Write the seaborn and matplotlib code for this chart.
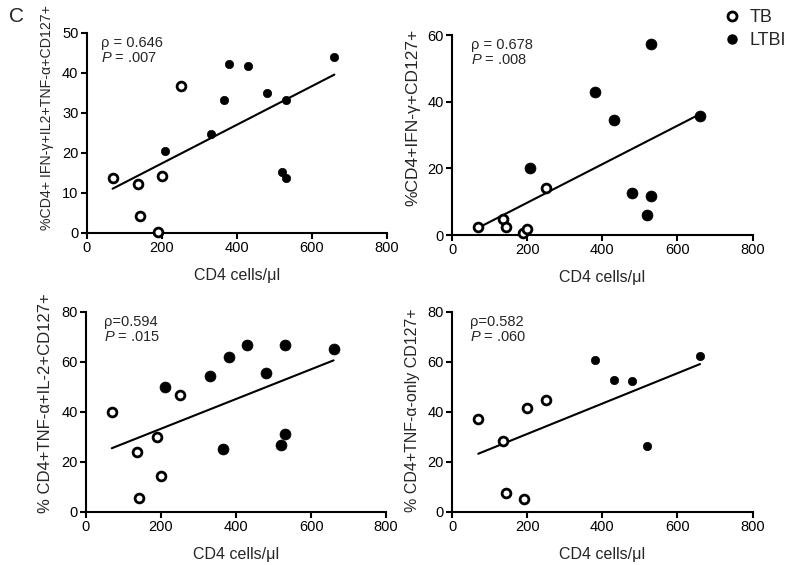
import numpy as np
import pandas as pd
import matplotlib
matplotlib.use("Agg")
import matplotlib.pyplot as plt
import seaborn as sns
from matplotlib.lines import Line2D

sns.set_style("ticks")
plt.rcParams['font.family'] = ['Liberation Sans', 'DejaVu Sans']
plt.rcParams['mathtext.fontset'] = 'custom'
plt.rcParams['mathtext.it'] = 'Liberation Sans:italic'
plt.rcParams['mathtext.rm'] = 'Liberation Sans'

# CD4 counts per subject
tb_cd4 = [69, 136, 142, 190, 200, 250]

# panel A: %CD4+ IFN-g+IL2+TNF-a+CD127+
a_tb = [13.6, 12.1, 4.3, 0.2, 14.2, 36.7]
a_ltbi_cd4 = [210, 330, 365, 380, 430, 480, 520, 530, 530, 660]
a_ltbi = [20.4, 24.6, 33.3, 42.3, 41.7, 35.0, 15.2, 13.7, 33.3, 44.0]

# panel B: %CD4+IFN-g+CD127+
b_tb_cd4 = [69, 136, 142, 189, 200, 250]
b_tb = [2.5, 4.7, 2.5, 0.7, 1.7, 14.2]
b_ltbi_cd4 = [208, 380, 430, 480, 520, 530, 530, 660]
b_ltbi = [20.0, 43.0, 34.5, 12.7, 6.0, 11.8, 57.2, 35.7]

# panel C: % CD4+TNF-a+IL-2+CD127+
c_tb_cd4 = [69, 136, 142, 190, 200, 250]
c_tb = [40.0, 23.9, 5.7, 30.0, 14.3, 46.9]
c_ltbi_cd4 = [210, 330, 365, 380, 430, 480, 520, 530, 530, 660]
c_ltbi = [50.0, 54.3, 25.1, 62.1, 66.7, 55.6, 26.7, 31.1, 66.7, 65.1]

# panel D: % CD4+TNF-a-only CD127+
d_tb_cd4 = [69, 136, 142, 190, 200, 250]
d_tb = [37.3, 28.5, 7.6, 5.1, 41.5, 44.9]
d_ltbi_cd4 = [380, 430, 480, 520, 660]
d_ltbi = [60.8, 52.8, 52.3, 26.5, 62.2]

panels = [
    dict(tbx=tb_cd4, tby=a_tb, lx=a_ltbi_cd4, ly=a_ltbi, ymax=50, yticks=[0, 10, 20, 30, 40, 50],
         ylabel="%CD4+ IFN-γ+IL2+TNF-α+CD127+", rho="ρ = 0.646", p=".007", big=False),
    dict(tbx=b_tb_cd4, tby=b_tb, lx=b_ltbi_cd4, ly=b_ltbi, ymax=60, yticks=[0, 20, 40, 60],
         ylabel="%CD4+IFN-γ+CD127+", rho="ρ = 0.678", p=".008", big=True),
    dict(tbx=c_tb_cd4, tby=c_tb, lx=c_ltbi_cd4, ly=c_ltbi, ymax=80, yticks=[0, 20, 40, 60, 80],
         ylabel="% CD4+TNF-α+IL-2+CD127+", rho="ρ=0.594", p=".015", big=True),
    dict(tbx=d_tb_cd4, tby=d_tb, lx=d_ltbi_cd4, ly=d_ltbi, ymax=80, yticks=[0, 20, 40, 60, 80],
         ylabel="% CD4+TNF-α-only CD127+", rho="ρ=0.582", p=".060", big=False),
]

positions = [
    [0.110, 0.588, 0.381, 0.354],
    [0.574, 0.584, 0.381, 0.354],
    [0.109, 0.094, 0.381, 0.354],
    [0.574, 0.094, 0.381, 0.354],
]
text_x = [0.049, 0.061, 0.06, 0.06]
ylab_size = [10.2, 12.5, 12, 11.5]
ylab_pos = [(-0.108, 0.575), (-0.108, 0.59), (-0.108, 0.545), (-0.108, 0.51)]

fig = plt.figure(figsize=(7.88, 5.65), dpi=100)

for pan, pos, tx, ys, yp in zip(panels, positions, text_x, ylab_size, ylab_pos):
    ax = fig.add_axes(pos)
    df = pd.DataFrame({
        "cd4": list(pan["tbx"]) + list(pan["lx"]),
        "val": list(pan["tby"]) + list(pan["ly"]),
    })
    sns.regplot(data=df, x="cd4", y="val", ax=ax, scatter=False, ci=None,
                truncate=True, color="black", line_kws=dict(lw=1.5))
    filled_s = 62 if pan["big"] else 36
    sns.scatterplot(x=pan["lx"], y=pan["ly"], ax=ax, color="black", s=filled_s,
                    edgecolor="black", linewidth=0.5, clip_on=False, zorder=3)
    sns.scatterplot(x=pan["tbx"], y=pan["tby"], ax=ax, facecolor="white", s=40,
                    edgecolor="black", linewidth=2.0, clip_on=False, zorder=3)
    ax.set_xlim(0, 800)
    ax.set_ylim(0, pan["ymax"])
    ax.set_xticks([0, 200, 400, 600, 800])
    ax.set_yticks(pan["yticks"])
    ax.tick_params(labelsize=10.5, length=4, width=1.5, color="black", labelcolor="black", pad=2)
    for s in ["left", "bottom"]:
        ax.spines[s].set_linewidth(1.5)
        ax.spines[s].set_color("black")
    sns.despine(ax=ax)
    ax.set_xlabel("CD4 cells/μl", fontsize=11.5, labelpad=9)
    ax.set_ylabel(pan["ylabel"], fontsize=ys)
    ax.yaxis.set_label_coords(yp[0], yp[1])
    ax.text(tx, 0.985, pan["rho"], transform=ax.transAxes, va="top", ha="left", fontsize=10.5)
    ax.text(tx, 0.91, r"$\it{P}$ = " + pan["p"], transform=ax.transAxes, va="top", ha="left", fontsize=10.5)

handles = [
    Line2D([], [], ls="none", marker="o", markersize=6.5, markerfacecolor="white",
           markeredgecolor="black", markeredgewidth=2),
    Line2D([], [], ls="none", marker="o", markersize=6.5, markerfacecolor="black",
           markeredgecolor="black"),
]
fig.legend(handles, ["TB", "LTBI"], loc="upper left", bbox_to_anchor=(0.895, 1.012),
           frameon=False, fontsize=13, handletextpad=0.35, labelspacing=0.3, handlelength=1.2)

fig.text(0.012, 0.988, "C", fontsize=15, va="top", ha="left")

fig.savefig("out.png", dpi=100)
